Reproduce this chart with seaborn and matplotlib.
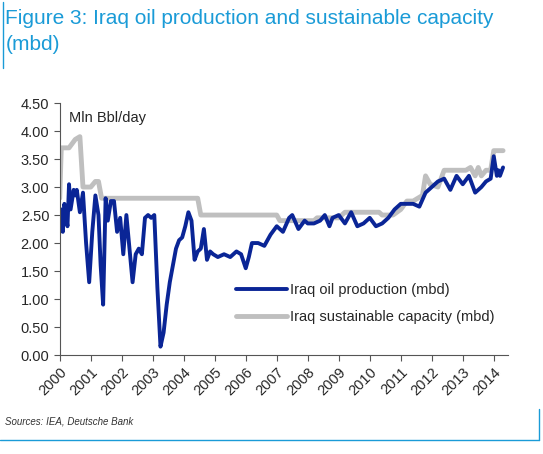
import matplotlib
matplotlib.use('Agg')
import matplotlib.pyplot as plt
import seaborn as sns
import pandas as pd

# 数据：年份（小数）与产量 / 可持续产能（百万桶/日）
prod_t = [2000.0, 2000.05, 2000.1, 2000.15, 2000.2, 2000.25, 2000.3, 2000.35, 2000.45, 2000.5, 2000.55,
          2000.65, 2000.75, 2000.85, 2000.95, 2001.05, 2001.15, 2001.25, 2001.32, 2001.4, 2001.48, 2001.55,
          2001.65, 2001.75, 2001.85, 2001.95, 2002.05, 2002.15, 2002.25, 2002.35, 2002.45, 2002.55,
          2002.65, 2002.75, 2002.85, 2002.95, 2003.05, 2003.15, 2003.25, 2003.35, 2003.45, 2003.55,
          2003.65, 2003.75, 2003.85, 2003.95, 2004.05, 2004.15, 2004.25, 2004.35, 2004.45, 2004.55,
          2004.65, 2004.75, 2004.85, 2004.95, 2005.1, 2005.3, 2005.5, 2005.7, 2005.85, 2006.0, 2006.1,
          2006.2, 2006.4, 2006.6, 2006.8, 2007.0, 2007.2, 2007.4, 2007.5, 2007.7, 2007.9, 2008.0,
          2008.2, 2008.4, 2008.55, 2008.7, 2008.8, 2009.0, 2009.2, 2009.4, 2009.6, 2009.8, 2010.0,
          2010.2, 2010.4, 2010.6, 2010.8, 2011.0, 2011.2, 2011.4, 2011.6, 2011.8, 2012.0, 2012.2,
          2012.4, 2012.6, 2012.8, 2013.0, 2013.2, 2013.4, 2013.6, 2013.75, 2013.9, 2014.0, 2014.1,
          2014.15, 2014.2, 2014.3]
prod = [2.2, 2.6, 2.2, 2.7, 2.5, 2.3, 3.05, 2.6, 2.95, 2.85, 2.95,
        2.55, 2.9, 2.0, 1.3, 2.2, 2.85, 2.5, 1.6, 0.9, 2.8, 2.4,
        2.75, 2.75, 2.2, 2.45, 1.8, 2.5, 1.9, 1.3, 1.8, 1.9,
        1.8, 2.45, 2.5, 2.45, 2.5, 1.2, 0.15, 0.4, 0.9, 1.3,
        1.6, 1.9, 2.05, 2.1, 2.3, 2.55, 2.4, 1.7, 1.85, 1.9,
        2.25, 1.7, 1.85, 1.8, 1.75, 1.8, 1.75, 1.85, 1.8, 1.55, 1.75,
        2.0, 2.0, 1.95, 2.15, 2.3, 2.2, 2.45, 2.5, 2.25, 2.4, 2.35,
        2.35, 2.4, 2.5, 2.3, 2.45, 2.5, 2.35, 2.55, 2.3, 2.35, 2.45,
        2.3, 2.35, 2.45, 2.6, 2.7, 2.7, 2.7, 2.65, 2.9, 3.0, 3.1,
        3.15, 2.95, 3.2, 3.05, 3.2, 2.9, 3.0, 3.1, 3.15, 3.55, 3.2,
        3.3, 3.2, 3.35]

cap_t = [2000.0, 2000.05, 2000.3, 2000.5, 2000.65, 2000.75, 2001.0, 2001.15, 2001.25, 2001.35,
         2004.45, 2004.55, 2007.0, 2007.1, 2008.2, 2008.3, 2009.0, 2009.2, 2010.3, 2010.4,
         2010.75, 2011.0, 2011.2, 2011.4, 2011.7, 2011.8, 2011.95, 2012.2, 2012.4, 2013.1,
         2013.25, 2013.4, 2013.5, 2013.6, 2013.75, 2013.9, 2014.0, 2014.05, 2014.3]
cap = [2.8, 3.7, 3.7, 3.85, 3.9, 3.0, 3.0, 3.1, 3.1, 2.8,
       2.8, 2.5, 2.5, 2.4, 2.4, 2.45, 2.45, 2.55, 2.55, 2.5,
       2.5, 2.6, 2.75, 2.75, 2.85, 3.2, 3.05, 3.0, 3.3, 3.3,
       3.35, 3.2, 3.35, 3.2, 3.3, 3.3, 3.65, 3.65, 3.65]

df_p = pd.DataFrame({'t': prod_t, 'v': prod})
df_c = pd.DataFrame({'t': cap_t, 'v': cap})

sns.set_style('white')
plt.rcParams['font.family'] = ['Liberation Sans', 'DejaVu Sans']

fig = plt.figure(figsize=(5.43, 4.54), dpi=100)
ax = fig.add_axes([0.11, 0.218, 0.825, 0.555])
sns.lineplot(data=df_c, x='t', y='v', ax=ax, color='#bfbfbf', lw=3.5, label='Iraq sustainable capacity (mbd)')
sns.lineplot(data=df_p, x='t', y='v', ax=ax, color='#0a2596', lw=2.8, label='Iraq oil production (mbd)')

ax.set_xlim(2000, 2014.45)
ax.set_ylim(0, 4.5)
ax.set_xticks(range(2000, 2015))
ax.set_xticklabels([str(y) for y in range(2000, 2015)], rotation=45, ha='right', rotation_mode='anchor', fontsize=10.5)
ax.set_yticks([i * 0.5 for i in range(10)])
ax.set_yticklabels([f'{i * 0.5:.2f}' for i in range(10)], fontsize=10.5)
ax.tick_params(axis='both', length=4, direction='out', bottom=True, left=True, color='#555555')
ax.set_xlabel('')
ax.set_ylabel('')
for s in ['top', 'right']:
    ax.spines[s].set_visible(False)
for s in ['left', 'bottom']:
    ax.spines[s].set_color('#555555')
ax.text(0.02, 0.97, 'Mln Bbl/day', transform=ax.transAxes, fontsize=10.5, va='top')

h, l = ax.get_legend_handles_labels()
ax.legend(h[::-1], l[::-1], loc='lower right', bbox_to_anchor=(1.0, 0.07), frameon=False, fontsize=10.5,
          handlelength=3.5, handletextpad=0.2, labelspacing=0.9)

fig.text(0.01, 0.98, 'Figure 3: Iraq oil production and sustainable capacity\n(mbd)', color='#1a9bd7',
         fontsize=15, va='top', linespacing=1.45)
fig.add_artist(plt.Line2D([0.005, 0.005], [0.85, 0.995], color='#1a9bd7', lw=1))
fig.add_artist(plt.Line2D([0.993, 0.993], [0.03, 0.1], color='#1a9bd7', lw=1))
fig.add_artist(plt.Line2D([0.0, 0.993], [0.03, 0.03], color='#1a9bd7', lw=1))
fig.text(0.01, 0.065, 'Sources: IEA, Deutsche Bank', fontsize=7, style='italic', color='#333333')

fig.savefig('out.png', dpi=100)
